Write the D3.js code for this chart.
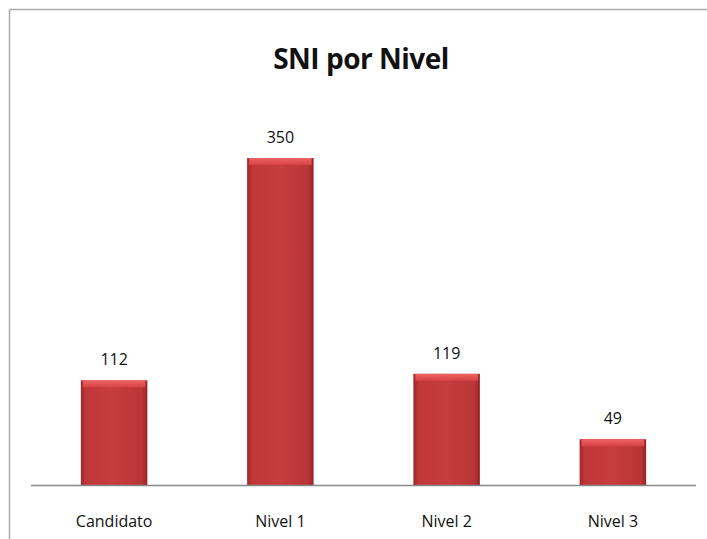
<!DOCTYPE html>
<html>
<head>
<meta charset="utf-8">
<script src="https://cdn.jsdelivr.net/npm/d3@7"></script>
<style>
  body { margin: 0; background: #fff; }
  text { font-family: "Open Sans", Lato, sans-serif; fill: #111; }
</style>
</head>
<body>
<svg></svg>
<script>
var width = 707, height = 539;
var categories = ["Candidato", "Nivel 1", "Nivel 2", "Nivel 3"];
var values = [112, 350, 119, 49];
var title = "SNI por Nivel";

var svg = d3.select("svg").attr("width", width).attr("height", height);

// gradients for the bevelled bars
var defs = svg.append("defs");
var gh = defs.append("linearGradient").attr("id", "barH")
    .attr("x1", 0).attr("x2", 1).attr("y1", 0).attr("y2", 0);
gh.append("stop").attr("offset", "0").attr("stop-color", "#a02628");
gh.append("stop").attr("offset", "0.08").attr("stop-color", "#c0373a");
gh.append("stop").attr("offset", "0.5").attr("stop-color", "#c83c3e");
gh.append("stop").attr("offset", "0.92").attr("stop-color", "#b93537");
gh.append("stop").attr("offset", "1").attr("stop-color", "#962426");
var gt = defs.append("linearGradient").attr("id", "barTop")
    .attr("x1", 0).attr("x2", 0).attr("y1", 0).attr("y2", 1);
gt.append("stop").attr("offset", "0").attr("stop-color", "#ee6464");
gt.append("stop").attr("offset", "1").attr("stop-color", "#d44244");

// frame (top and left only visible)
svg.append("line").attr("x1", 9.5).attr("x2", width).attr("y1", 9.5).attr("y2", 9.5)
    .attr("stroke", "#aaa").attr("stroke-width", 1.5);
svg.append("line").attr("x1", 9.5).attr("x2", 9.5).attr("y1", 9.5).attr("y2", height)
    .attr("stroke", "#aaa").attr("stroke-width", 1.5);

var x = d3.scaleBand().domain(categories).range([31, 696]).paddingInner(0.6).paddingOuter(0.3);
var y = d3.scaleLinear().domain([0, 350]).range([485, 158]);

svg.append("text").attr("x", 361).attr("y", 69).attr("text-anchor", "middle")
    .style("font-size", "28px").style("font-weight", "bold").style("letter-spacing", "-0.5px")
    .text(title);

var bars = svg.append("g").selectAll("g").data(values).enter().append("g");

bars.append("rect")
    .attr("x", function (d, i) { return x(categories[i]); })
    .attr("y", function (d) { return y(d); })
    .attr("width", x.bandwidth())
    .attr("height", function (d) { return y(0) - y(d); })
    .attr("fill", "url(#barH)");

// top bevel
bars.append("rect")
    .attr("x", function (d, i) { return x(categories[i]) + 2; })
    .attr("y", function (d) { return y(d); })
    .attr("width", x.bandwidth() - 4)
    .attr("height", 7)
    .attr("fill", "url(#barTop)");

bars.append("text")
    .attr("x", function (d, i) { return x(categories[i]) + x.bandwidth() / 2; })
    .attr("y", function (d) { return y(d) - 15; })
    .attr("text-anchor", "middle")
    .style("font-size", "16px")
    .text(function (d) { return d; });

svg.append("line").attr("x1", 31).attr("x2", 696).attr("y1", 485.5).attr("y2", 485.5)
    .attr("stroke", "#888").attr("stroke-width", 1.5);

svg.append("g").selectAll("text").data(categories).enter().append("text")
    .attr("x", function (d) { return x(d) + x.bandwidth() / 2; })
    .attr("y", 527)
    .attr("text-anchor", "middle")
    .style("font-size", "16px")
    .text(function (d) { return d; });
</script>
</body>
</html>
